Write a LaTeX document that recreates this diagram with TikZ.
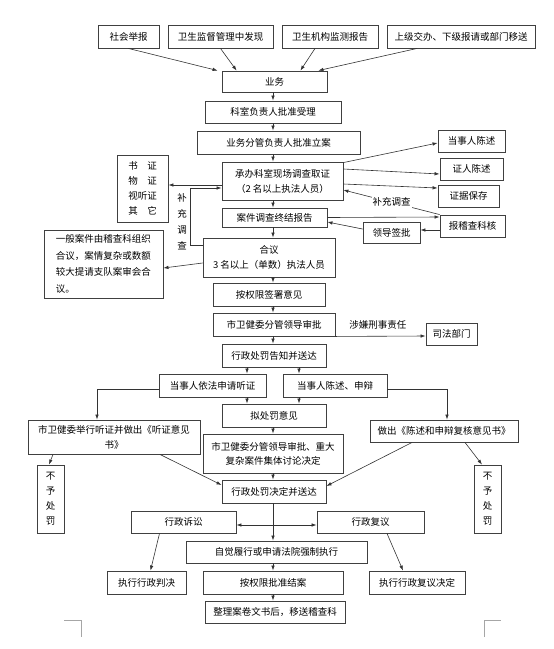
\documentclass[tikz,border=0pt]{standalone}
\usepackage{fontspec}
\setmainfont{Noto Sans CJK SC}
\usetikzlibrary{arrows.meta}

\begin{document}
\begin{tikzpicture}[x=1pt,y=-1pt,
    every node/.style={font=\fontsize{9.5}{15}\selectfont},
    box/.style={draw=black!75, line width=0.9pt, inner sep=0pt, align=center},
    sz/.style 2 args={minimum width=#1pt, minimum height=#2pt},
    arr/.style={draw=black!80, line width=0.6pt, -{Latex[length=5pt,width=3.5pt]}},
    arrb/.style={draw=black!80, line width=0.6pt, {Latex[length=5pt,width=3.5pt]}-{Latex[length=5pt,width=3.5pt]}}]

\useasboundingbox (0,0) rectangle (554,649);

% Sources
\node[box,sz={61}{23}] (jubao) at (128.5,36.5) {社会举报};
\node[box,sz={105}{23}] (faxian) at (220.5,36.5) {卫生监督管理中发现};
\node[box,sz={96}{23}] (jiance) at (330,36.5) {卫生机构监测报告};
\node[box,sz={148}{23}] (yisong) at (461,36.5) {上级交办、下级报请或部门移送};

% Main column
\node[box,sz={105}{21}] (yewu) at (274.5,81.5) {业务};
\node[box,sz={136}{22}] (shouli) at (273,112) {科室负责人批准受理};
\node[box,sz={163}{23}] (lian) at (278.5,142.5) {业务分管负责人批准立案};
\node[box,sz={121}{38}] (quzheng) at (282.5,181) {承办科室现场调查取证\\（2 名以上执法人员）};
\node[box,sz={105}{19}] (baogao) at (274.5,217.5) {案件调查终结报告};
\node[box,sz={132}{39}] (heyi) at (269,257.5) {合议\\3 名以上（单数）执法人员};
\node[box,sz={112}{23}] (qianshu) at (269,294.5) {按权限签署意见};
\node[box,sz={122}{23}] (shenpi) at (274,324.5) {市卫健委分管领导审批};
\node[box,sz={104}{23}] (gaozhi) at (274,355.5) {行政处罚告知并送达};
\node[box,sz={107}{23}] (tingzheng) at (212.5,385.5) {当事人依法申请听证};
\node[box,sz={104}{23}] (shenbian) at (335,385.5) {当事人陈述、申辩};
\node[box,sz={104}{23}] (niyi) at (274,415.5) {拟处罚意见};
\node[box,sz={140}{39}, font=\fontsize{9.5}{14}\selectfont] (jiti) at (273,453.5)
    {市卫健委分管领导审批、重大\\复杂案件集体讨论决定};
\node[box,sz={104}{23}] (jueding) at (274,491.5) {行政处罚决定并送达};
\node[box,sz={181}{22}] (zijue) at (276.5,552) {自觉履行或申请法院强制执行};
\node[box,sz={140}{23}] (jiean) at (273,582.5) {按权限批准结案};
\node[box,sz={140}{22}] (zhengli) at (275,612) {整理案卷文书后，移送稽查科};

% Side boxes
\node[box,sz={51}{67}] (zhengju) at (142.5,188.5) {书　证\\物　证\\视听证\\其　它};
\node[box,sz={67}{22}] (dangshi) at (471.5,141) {当事人陈述};
\node[box,sz={63}{22}] (zhengren) at (471.5,169) {证人陈述};
\node[box,sz={61}{22}] (baocun) at (468.5,196) {证据保存};
\node[box,sz={65}{22}] (hehe) at (472.5,226) {报稽查科核};
\node[box,sz={57}{21}] (qianpi) at (391.5,232.5) {领导签批};
\node[box,sz={119}{68}, align=left, font=\fontsize{9.5}{16.5}\selectfont] (yiban) at (103.5,264)
    {一般案件由稽查科组织\\合议，案情复杂或数额\\较大提请支队案审会合\\议。};
\node[box,sz={51}{22}] (sifa) at (451.5,334) {司法部门};
\node[box,sz={172}{34}] (juxing) at (114,437) {市卫健委举行听证并做出《听证意见\\书》};
\node[box,sz={148}{22}] (fuhe) at (444,431) {做出《陈述和申辩复核意见书》};
\node[box,sz={27}{68}] (buyuL) at (50.5,499) {不\\予\\处\\罚};
\node[box,sz={27}{68}] (buyuR) at (487.5,499) {不\\予\\处\\罚};
\node[box,sz={105}{22}] (susong) at (183.5,522) {行政诉讼};
\node[box,sz={107}{22}] (fuyi) at (370.5,522) {行政复议};
\node[box,sz={79}{23}] (panjue) at (146.5,582.5) {执行行政判决};
\node[box,sz={96}{23}] (fuyijd) at (417,582.5) {执行行政复议决定};

% Sources to yewu
\draw[arr] (jubao.south) -- ([xshift=-4pt]yewu.north west);
\draw[arr] (faxian.south) -- ([xshift=15pt]yewu.north west);
\draw[arr] ([xshift=-15pt]jiance.south) -- ([xshift=-27pt]yewu.north east);
\draw[arr] ([xshift=-44pt]yisong.south) -- ([xshift=-9pt]yewu.north east);

% Main column arrows
\coordinate (axis) at (273,0);
\foreach \a/\b in {yewu/shouli, shouli/lian, lian/quzheng, quzheng/baogao,
    baogao/heyi, heyi/qianshu, qianshu/shenpi, shenpi/gaozhi, niyi/jiti,
    jiti/jueding, jueding/zijue, zijue/jiean, jiean/zhengli}{
    \draw[arr] (\a.south -| axis) -- (\b.north -| axis);
}

% Investigation
\draw[arr] ([yshift=-4pt]quzheng.west) -- ([yshift=3.5pt]zhengju.east);
\coordinate (bcx) at (190,188);
\draw[arr] ([yshift=12.5pt]heyi.west) -| (bcx) -- ([yshift=-7pt]quzheng.west);
\node[align=center, font=\fontsize{9.5}{16}\selectfont] (buchong) at (182,222) {补\\充\\调\\查};
\draw[arr] ([yshift=-1pt]quzheng.north east) -- ([yshift=-2pt]dangshi.west);
\draw[arr] ([yshift=12pt]quzheng.east) -- ([yshift=-5pt]zhengren.west);
\draw[arr] ([yshift=-3pt]quzheng.east) -- ([yshift=8pt]baocun.west);
\draw[arr] (hehe.north west) -- node[fill=white, inner sep=1pt] (buchong2) {补充调查}
    ([yshift=-9pt]quzheng.east);
\draw[arr] (baogao.east) -- ([yshift=9pt]hehe.west);
\draw[arr] ([yshift=-4pt]hehe.west) -- ([yshift=2.5pt]qianpi.east);
\draw[arr] ([yshift=3.5pt]qianpi.west) -- ([yshift=-4.5pt]baogao.east);
\draw[arr] ([yshift=-5.5pt]heyi.west) -- ([yshift=-4pt]yiban.east);

% Approval
\draw[arr] (shenpi.south east) -- node[above=3pt, pos=0.47] (xingze) {涉嫌刑事责任}
    ([yshift=-2pt]sifa.west);

% Hearing / statement
\draw[arr] ([xshift=-27pt]gaozhi.south) -- ([xshift=34.5pt]tingzheng.north);
\draw[arr] ([xshift=25pt]gaozhi.south) -- ([xshift=-36pt]shenbian.north);
\draw[arr] ([xshift=34.5pt]tingzheng.south) -- ([xshift=-27pt]niyi.north);
\draw[arr] ([xshift=-36pt]shenbian.south) -- ([xshift=25pt]niyi.north);
\draw[arr] ([yshift=-3.5pt]tingzheng.west) -| ([xshift=-17pt]juxing.north);
\draw[arr] ([yshift=-3.5pt]shenbian.east) -| ([xshift=3pt]fuhe.north);
\draw[arr] ([xshift=-61pt]juxing.south) -- ([xshift=-1.5pt]buyuL.north);
\draw[arr] ([xshift=46pt]juxing.south) -- ([yshift=6.5pt]jueding.west);
\draw[arr] ([xshift=-32pt]fuhe.south) -- ([yshift=5.5pt]jueding.east);
\draw[arr] ([xshift=21pt]fuhe.south) -- ([xshift=-5.5pt]buyuR.north);

% Remedies
\draw[arrb] ([yshift=-3pt]susong.east) -- ([yshift=-3pt]fuyi.west);
\draw[arr] ([xshift=-24pt]susong.south) -- ([xshift=4pt]panjue.north);
\draw[arr] ([xshift=16.5pt]fuyi.south) -- ([xshift=-14pt]fuyijd.north);

% Corner marks
\draw[black!35, line width=0.5pt] (64,620) -- (81,620) -- (81,637);
\draw[black!35, line width=0.5pt] (484,637) -- (484,620) -- (501,620);

\end{tikzpicture}
\end{document}
